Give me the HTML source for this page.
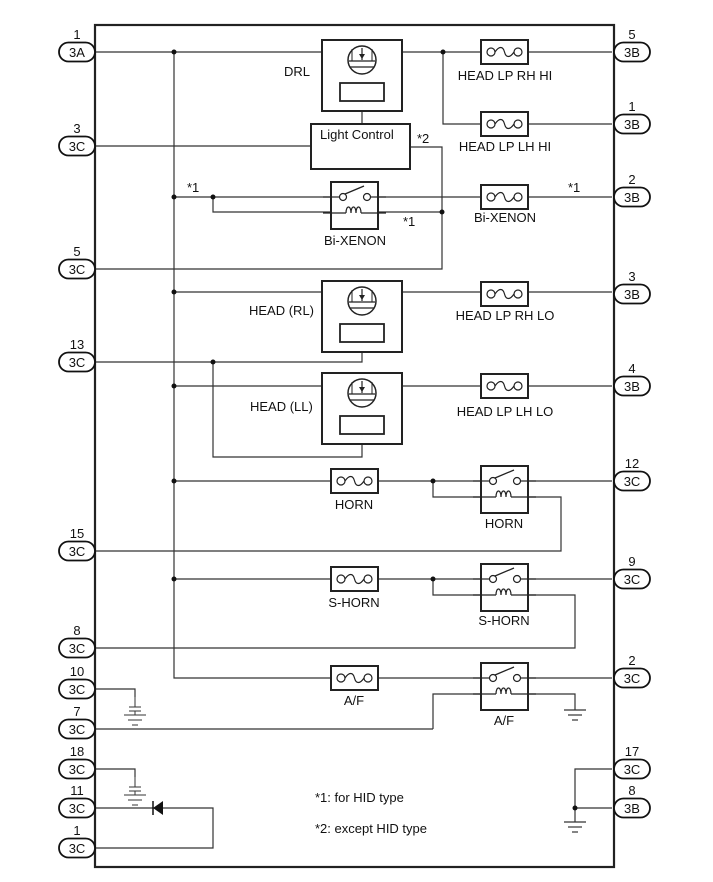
<!DOCTYPE html>
<html><head><meta charset="utf-8"><style>
body{margin:0;background:#fff}
svg{display:block}
text{font-family:"Liberation Sans",Arial,sans-serif;font-size:13px;fill:#111}
</style></head><body>
<svg width="713" height="882" viewBox="0 0 713 882" xmlns="http://www.w3.org/2000/svg">
<defs>
<g id="fuse"><rect x="0" y="-12" width="47" height="24" fill="#fff" stroke="#222" stroke-width="2"/><circle cx="10" cy="0" r="4" fill="#fff" stroke="#222" stroke-width="1.2"/><circle cx="37" cy="0" r="4" fill="#fff" stroke="#222" stroke-width="1.2"/><path d="M14 0 C18 -6 22 -6 23.5 0 S29 6 33 0" fill="none" stroke="#222" stroke-width="1.2"/></g>
<g id="relay"><rect x="0" y="0" width="47" height="47" fill="#fff" stroke="#222" stroke-width="2"/>
<line x1="-8" y1="15" x2="8" y2="15" stroke="#222" stroke-width="1.2"/><line x1="40" y1="15" x2="55" y2="15" stroke="#222" stroke-width="1.2"/>
<circle cx="12" cy="15" r="3.5" fill="#fff" stroke="#222" stroke-width="1.2"/><circle cx="36" cy="15" r="3.5" fill="#fff" stroke="#222" stroke-width="1.2"/><line x1="14" y1="12" x2="33" y2="4" stroke="#222" stroke-width="1.3"/>
<path d="M-8 31 H15 M15 31 c0 -8 5 -8 5 0 c0 -8 5 -8 5 0 c0 -8 5 -8 5 0 M30 31 H55" fill="none" stroke="#222" stroke-width="1.2"/></g>
<g id="lamp"><rect x="0" y="0" width="80" height="71" fill="#fff" stroke="#222" stroke-width="2"/><circle cx="40" cy="20" r="14" fill="#fff" stroke="#222" stroke-width="1.5"/><line x1="27" y1="21" x2="53" y2="21" stroke="#222" stroke-width="1.2"/><line x1="40" y1="8" x2="40" y2="20" stroke="#222" stroke-width="1.2"/><path d="M37 14 L43 14 L40 19 Z" fill="#222"/><line x1="30" y1="9" x2="30" y2="21" stroke="#222"/><line x1="50" y1="9" x2="50" y2="21" stroke="#222"/><line x1="28" y1="27" x2="52" y2="27" stroke="#222" stroke-width="1.2"/><rect x="18" y="43" width="44" height="18" fill="#fff" stroke="#222" stroke-width="1.8"/></g>
<g id="gnd"><line x1="-11" y1="0" x2="11" y2="0" stroke="#333" stroke-width="1.2"/><line x1="-7" y1="5" x2="7" y2="5" stroke="#333" stroke-width="1.2"/><line x1="-3" y1="10" x2="3" y2="10" stroke="#333" stroke-width="1.2"/></g>
<g id="cgnd"><line x1="0" y1="0" x2="0" y2="10" stroke="#333"/><line x1="-6" y1="10" x2="6" y2="10" stroke="#333"/><line x1="-6" y1="14" x2="6" y2="14" stroke="#333"/><line x1="0" y1="14" x2="0" y2="18" stroke="#333"/><line x1="-11" y1="18" x2="11" y2="18" stroke="#333"/><line x1="-7" y1="23" x2="7" y2="23" stroke="#333"/><line x1="-3" y1="28" x2="3" y2="28" stroke="#333"/></g>
<g id="pl"><rect x="-36" y="-9.5" width="36" height="19" rx="9.5" fill="#fff" stroke="#111" stroke-width="1.8"/></g>
<g id="pr"><rect x="0" y="-9.5" width="36" height="19" rx="9.5" fill="#fff" stroke="#111" stroke-width="1.8"/></g>
</defs>
<rect x="95" y="25" width="519" height="842" fill="none" stroke="#222" stroke-width="2.2"/>
<g stroke="#333" stroke-width="1.2" fill="none">
<path d="M95 52 H612 M443 52 V124 H612 M174 52 V678 H612"/>
<path d="M362 111 V124 M95 146 H311 M410 147 H442 V269 H95"/>
<path d="M174 197 H612 M213 197 V212 H442"/>
<path d="M174 292 H612 M362 342 V362 H95 M213 362 V457 H362 V436 M174 386 H612"/>
<path d="M174 481 H612 M433 481 V497 H481 M528 497 H561 V551 H95"/>
<path d="M174 579 H612 M433 579 V595 H481 M528 595 H575 V648 H95"/>
<path d="M433 729 V694 H481 M528 694 H575 V710 M95 729 H433"/>
<path d="M95 689 H135 V697 M95 769 H135 V777"/>
<path d="M95 808 H213 V848 H95"/>
<path d="M612 769 H575 V822 M575 808 H612"/>
</g>
<g fill="#111"><circle cx="174" cy="52" r="2.5"/><circle cx="443" cy="52" r="2.5"/><circle cx="174" cy="197" r="2.5"/><circle cx="213" cy="197" r="2.5"/><circle cx="442" cy="212" r="2.5"/><circle cx="174" cy="292" r="2.5"/><circle cx="213" cy="362" r="2.5"/><circle cx="174" cy="386" r="2.5"/><circle cx="174" cy="481" r="2.5"/><circle cx="433" cy="481" r="2.5"/><circle cx="174" cy="579" r="2.5"/><circle cx="433" cy="579" r="2.5"/><circle cx="575" cy="808" r="2.5"/></g>
<use href="#lamp" x="322" y="40"/>
<rect x="311" y="124" width="99" height="45" fill="#fff" stroke="#222" stroke-width="2"/>
<use href="#relay" x="331" y="182"/>
<use href="#lamp" x="322" y="281"/>
<use href="#lamp" x="322" y="373"/>
<use href="#fuse" x="481" y="52"/><use href="#fuse" x="481" y="124"/><use href="#fuse" x="481" y="197"/><use href="#fuse" x="481" y="294"/><use href="#fuse" x="481" y="386"/>
<use href="#fuse" x="331" y="481"/><use href="#fuse" x="331" y="579"/><use href="#fuse" x="331" y="678"/>
<use href="#relay" x="481" y="466"/><use href="#relay" x="481" y="564"/><use href="#relay" x="481" y="663"/>
<use href="#gnd" x="575" y="710"/><use href="#gnd" x="575" y="822"/>
<use href="#cgnd" x="135" y="697"/><use href="#cgnd" x="135" y="777"/>
<path d="M153 808 L163 801 L163 815 Z" fill="#111"/><line x1="153" y1="801" x2="153" y2="815" stroke="#111" stroke-width="1.5"/>
<g font-size="13">
<text x="284" y="76">DRL</text>
<text x="320" y="139">Light Control</text>
<text x="417" y="143">*2</text>
<text x="187" y="192">*1</text>
<text x="403" y="226">*1</text>
<text x="568" y="192">*1</text>
<text x="355" y="245" text-anchor="middle">Bi-XENON</text>
<text x="505" y="222" text-anchor="middle">Bi-XENON</text>
<text x="505" y="80" text-anchor="middle">HEAD LP RH HI</text>
<text x="505" y="151" text-anchor="middle">HEAD LP LH HI</text>
<text x="505" y="320" text-anchor="middle">HEAD LP RH LO</text>
<text x="505" y="416" text-anchor="middle">HEAD LP LH LO</text>
<text x="249" y="315">HEAD (RL)</text>
<text x="250" y="411">HEAD (LL)</text>
<text x="354" y="509" text-anchor="middle">HORN</text>
<text x="504" y="528" text-anchor="middle">HORN</text>
<text x="354" y="607" text-anchor="middle">S-HORN</text>
<text x="504" y="625" text-anchor="middle">S-HORN</text>
<text x="354" y="705" text-anchor="middle">A/F</text>
<text x="504" y="725" text-anchor="middle">A/F</text>
<text x="315" y="802" font-size="12">*1: for HID type</text>
<text x="315" y="833" font-size="12">*2: except HID type</text>
</g>
<g font-size="13" text-anchor="middle">
<use href="#pl" x="95" y="52"/><text x="77" y="57">3A</text><text x="77" y="39">1</text>
<use href="#pl" x="95" y="146"/><text x="77" y="151">3C</text><text x="77" y="133">3</text>
<use href="#pl" x="95" y="269"/><text x="77" y="274">3C</text><text x="77" y="256">5</text>
<use href="#pl" x="95" y="362"/><text x="77" y="367">3C</text><text x="77" y="349">13</text>
<use href="#pl" x="95" y="551"/><text x="77" y="556">3C</text><text x="77" y="538">15</text>
<use href="#pl" x="95" y="648"/><text x="77" y="653">3C</text><text x="77" y="635">8</text>
<use href="#pl" x="95" y="689"/><text x="77" y="694">3C</text><text x="77" y="676">10</text>
<use href="#pl" x="95" y="729"/><text x="77" y="734">3C</text><text x="77" y="716">7</text>
<use href="#pl" x="95" y="769"/><text x="77" y="774">3C</text><text x="77" y="756">18</text>
<use href="#pl" x="95" y="808"/><text x="77" y="813">3C</text><text x="77" y="795">11</text>
<use href="#pl" x="95" y="848"/><text x="77" y="853">3C</text><text x="77" y="835">1</text>
<use href="#pr" x="614" y="52"/><text x="632" y="57">3B</text><text x="632" y="39">5</text>
<use href="#pr" x="614" y="124"/><text x="632" y="129">3B</text><text x="632" y="111">1</text>
<use href="#pr" x="614" y="197"/><text x="632" y="202">3B</text><text x="632" y="184">2</text>
<use href="#pr" x="614" y="294"/><text x="632" y="299">3B</text><text x="632" y="281">3</text>
<use href="#pr" x="614" y="386"/><text x="632" y="391">3B</text><text x="632" y="373">4</text>
<use href="#pr" x="614" y="481"/><text x="632" y="486">3C</text><text x="632" y="468">12</text>
<use href="#pr" x="614" y="579"/><text x="632" y="584">3C</text><text x="632" y="566">9</text>
<use href="#pr" x="614" y="678"/><text x="632" y="683">3C</text><text x="632" y="665">2</text>
<use href="#pr" x="614" y="769"/><text x="632" y="774">3C</text><text x="632" y="756">17</text>
<use href="#pr" x="614" y="808"/><text x="632" y="813">3B</text><text x="632" y="795">8</text>
</g>
</svg>
</body></html>
